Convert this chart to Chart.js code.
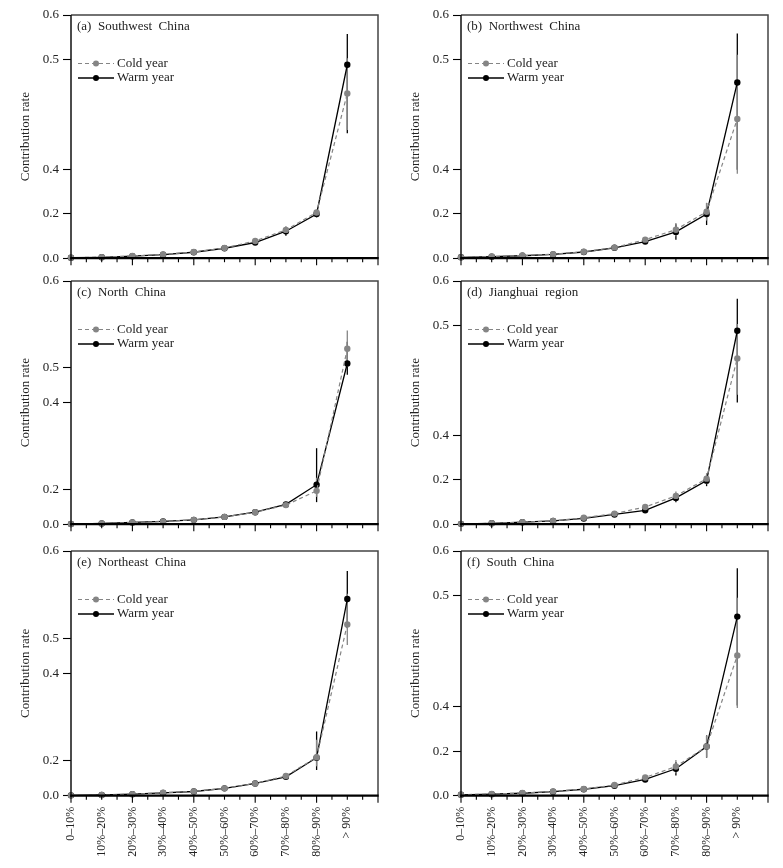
<!DOCTYPE html>
<html><head><meta charset="utf-8">
<script src="https://cdn.jsdelivr.net/npm/chart.js@4.4.1/dist/chart.umd.min.js"></script>
<style>
html,body{margin:0;padding:0;background:#fff;}
body{width:783px;height:868px;position:relative;overflow:hidden;}
.p{position:absolute;}
canvas{display:block;}
</style></head><body>
<div class="p" style="left:0;top:0;width:390px;height:270px"><canvas id="c0"></canvas></div>
<div class="p" style="left:390px;top:0;width:390px;height:270px"><canvas id="c1"></canvas></div>
<div class="p" style="left:0;top:266.2px;width:390px;height:270px"><canvas id="c2"></canvas></div>
<div class="p" style="left:390px;top:266.2px;width:390px;height:270px"><canvas id="c3"></canvas></div>
<div class="p" style="left:0;top:535.7px;width:390px;height:332.3px"><canvas id="c4"></canvas></div>
<div class="p" style="left:390px;top:535.7px;width:390px;height:332.3px"><canvas id="c5"></canvas></div>
<script>
// ---------------- data ----------------
const categories = ['0–10%','10%–20%','20%–30%','30%–40%','40%–50%','50%–60%','60%–70%','70%–80%','80%–90%','> 90%'];
const yTickValues = [0, 0.2, 0.4, 0.5, 0.6];
const seriesLabels = ['Cold year', 'Warm year'];
const panelTitles = ['(a)  Southwest  China','(b)  Northwest  China','(c)  North  China','(d)  Jianghuai  region','(e)  Northeast  China','(f)  South  China'];
const yAxisTitle = 'Contribution rate';

// (a) Southwest China
const swCold    = [0.002, 0.005, 0.010, 0.017, 0.028, 0.046, 0.078, 0.128, 0.207, 0.469];
const swWarm    = [0.002, 0.004, 0.009, 0.016, 0.027, 0.045, 0.071, 0.122, 0.200, 0.495];
const swColdErr = [0, 0, 0.001, 0.001, 0.002, 0.004, 0.007, 0.015, 0.012, 0.033];
const swWarmErr = [0, 0, 0.001, 0.001, 0.002, 0.004, 0.007, 0.020, 0.015, 0.062];
// (b) Northwest China
const nwCold    = [0.0045, 0.0075, 0.012, 0.018, 0.029, 0.048, 0.084, 0.129, 0.210, 0.446];
const nwWarm    = [0.004, 0.007, 0.011, 0.017, 0.028, 0.047, 0.075, 0.119, 0.200, 0.479];
const nwColdErr = [0, 0, 0.001, 0.002, 0.003, 0.006, 0.010, 0.030, 0.040, 0.064];
const nwWarmErr = [0, 0, 0.001, 0.002, 0.003, 0.006, 0.010, 0.035, 0.050, 0.079];
// (c) North China
const ncCold    = [0.001, 0.004, 0.010, 0.015, 0.025, 0.042, 0.069, 0.110, 0.192, 0.522];
const ncWarm    = [0.001, 0.004, 0.010, 0.016, 0.025, 0.042, 0.069, 0.114, 0.211, 0.505];
const ncColdErr = [0, 0, 0.001, 0.001, 0.002, 0.003, 0.004, 0.008, 0.035, 0.021];
const ncWarmErr = [0, 0, 0.001, 0.001, 0.002, 0.003, 0.004, 0.008, 0.084, 0.025];
// (d) Jianghuai region
const jhCold    = [0.0015, 0.004, 0.009, 0.015, 0.029, 0.048, 0.078, 0.128, 0.206, 0.470];
const jhWarm    = [0.0015, 0.004, 0.009, 0.015, 0.026, 0.044, 0.063, 0.119, 0.197, 0.495];
const jhColdErr = [0, 0, 0.001, 0.001, 0.002, 0.004, 0.008, 0.020, 0.025, 0.033];
const jhWarmErr = [0, 0, 0.001, 0.001, 0.002, 0.004, 0.008, 0.020, 0.025, 0.065];
// (e) Northeast China
const neCold    = [0.002, 0.004, 0.009, 0.017, 0.025, 0.042, 0.070, 0.113, 0.208, 0.516];
const neWarm    = [0.002, 0.004, 0.009, 0.016, 0.024, 0.042, 0.070, 0.108, 0.207, 0.545];
const neColdErr = [0, 0, 0.001, 0.001, 0.002, 0.003, 0.005, 0.010, 0.040, 0.035];
const neWarmErr = [0, 0, 0.001, 0.001, 0.002, 0.003, 0.005, 0.010, 0.060, 0.032];
// (f) South China
const scCold    = [0.0045, 0.0075, 0.012, 0.019, 0.030, 0.048, 0.082, 0.131, 0.221, 0.446];
const scWarm    = [0.004, 0.007, 0.011, 0.018, 0.029, 0.045, 0.073, 0.121, 0.221, 0.481];
const scColdErr = [0, 0, 0.001, 0.002, 0.003, 0.006, 0.010, 0.030, 0.050, 0.052];
const scWarmErr = [0, 0, 0.001, 0.002, 0.003, 0.006, 0.010, 0.030, 0.050, 0.080];

// ---------------- axis configuration (broken y axis) ----------------
const AXIS_FRACTIONS = {
  brokenA: [0, 2/11, 4/11, 9/11, 1],
  brokenB: [0, 1/7, 3.5/7, 4.5/7, 1]
};
function toFrac(v, vals, fr) {
  const n = vals.length - 1;
  let i = 0;
  if (v <= vals[0]) i = 0;
  else if (v >= vals[n]) i = n - 1;
  else { while (i < n - 1 && v > vals[i + 1]) i++; }
  return fr[i] + (v - vals[i]) / (vals[i + 1] - vals[i]) * (fr[i + 1] - fr[i]);
}
function fromFrac(f, vals, fr) {
  const n = fr.length - 1;
  let i = 0;
  if (f <= fr[0]) i = 0;
  else if (f >= fr[n]) i = n - 1;
  else { while (i < n - 1 && f > fr[i + 1]) i++; }
  return vals[i] + (f - fr[i]) / (fr[i + 1] - fr[i]) * (vals[i + 1] - vals[i]);
}
const BaseLinear = Chart.LinearScale || Chart.registry.getScale('linear');
function makeBrokenScale(id, fr) {
  class BrokenScale extends BaseLinear {
    getPixelForValue(value) {
      if (value === null || value === undefined || isNaN(value)) return NaN;
      return this.getPixelForDecimal(toFrac(value, yTickValues, fr));
    }
    getValueForPixel(pixel) {
      return fromFrac(this.getDecimalForPixel(pixel), yTickValues, fr);
    }
  }
  BrokenScale.id = id;
  BrokenScale.defaults = BaseLinear.defaults;
  Chart.register(BrokenScale);
}
makeBrokenScale('brokenA', AXIS_FRACTIONS.brokenA);
makeBrokenScale('brokenB', AXIS_FRACTIONS.brokenB);

// ---------------- styling ----------------
const FONT = 'Liberation Serif';
const COLD_COLOR = '#858585';
const WARM_COLOR = '#000000';
const TEXT_COLOR = '#222222';

const decor = {
  id: 'decor',
  beforeDatasetsDraw(chart) {
    const {ctx} = chart;
    const x = chart.scales.x, y = chart.scales.y;
    const ds = chart.data.datasets;
    ctx.save();
    ctx.setLineDash([]);
    for (const i of [1, 0]) {
      const d = ds[i];
      ctx.strokeStyle = d.borderColor;
      ctx.lineWidth = 1.3;
      d.data.forEach((p, j) => {
        const e = d.errorBars[j];
        if (!e) return;
        const px = x.getPixelForValue(p.x);
        ctx.beginPath();
        ctx.moveTo(px, y.getPixelForValue(p.y - e));
        ctx.lineTo(px, y.getPixelForValue(p.y + e));
        ctx.stroke();
      });
    }
    ctx.restore();
  },
  afterDraw(chart, args, opts) {
    const {ctx, chartArea: a} = chart;
    const x = chart.scales.x;
    ctx.save();
    ctx.setLineDash([]);
    // frame
    ctx.strokeStyle = '#444';
    ctx.lineWidth = 1.5;
    ctx.beginPath();
    ctx.moveTo(a.left, a.top); ctx.lineTo(a.right, a.top); ctx.lineTo(a.right, a.bottom);
    ctx.stroke();
    ctx.strokeStyle = '#111';
    ctx.beginPath(); ctx.moveTo(a.left, a.top); ctx.lineTo(a.left, a.bottom + 1); ctx.stroke();
    ctx.strokeStyle = '#000';
    ctx.lineWidth = 2.2;
    ctx.beginPath(); ctx.moveTo(a.left - 0.7, a.bottom); ctx.lineTo(a.right + 0.7, a.bottom); ctx.stroke();
    // x ticks (major every 2 categories, minor every half category)
    ctx.lineWidth = 1.1;
    for (let k = 0; k <= 20; k++) {
      const v = k / 2;
      const px = x.getPixelForValue(v);
      const len = (k % 4 === 0) ? 7 : 4;
      ctx.beginPath(); ctx.moveTo(px, a.bottom); ctx.lineTo(px, a.bottom + len); ctx.stroke();
    }
    // panel title
    ctx.fillStyle = TEXT_COLOR;
    ctx.font = '13px "' + FONT + '"';
    ctx.textBaseline = 'middle';
    ctx.textAlign = 'left';
    ctx.fillText(opts.title, a.left + 6, a.top + 12);
    // legend
    const ds = chart.data.datasets;
    const rows = [a.top + 48.5, a.top + 63];
    ds.forEach((d, i) => {
      const yy = rows[i];
      ctx.strokeStyle = d.borderColor;
      ctx.lineWidth = d.borderWidth;
      ctx.setLineDash(d.borderDash || []);
      ctx.beginPath(); ctx.moveTo(a.left + 7, yy); ctx.lineTo(a.left + 43, yy); ctx.stroke();
      ctx.setLineDash([]);
      ctx.fillStyle = d.pointBackgroundColor;
      ctx.beginPath(); ctx.arc(a.left + 25, yy, 3, 0, Math.PI * 2); ctx.fill();
      ctx.fillStyle = TEXT_COLOR;
      ctx.fillText(d.label, a.left + 46, yy);
    });
    ctx.restore();
  }
};

const PANELS = [
  {canvas: 'c0', title: panelTitles[0], cold: swCold, warm: swWarm, ce: swColdErr, we: swWarmErr, scale: 'brokenA', bottom: false},
  {canvas: 'c1', title: panelTitles[1], cold: nwCold, warm: nwWarm, ce: nwColdErr, we: nwWarmErr, scale: 'brokenA', bottom: false},
  {canvas: 'c2', title: panelTitles[2], cold: ncCold, warm: ncWarm, ce: ncColdErr, we: ncWarmErr, scale: 'brokenB', bottom: false},
  {canvas: 'c3', title: panelTitles[3], cold: jhCold, warm: jhWarm, ce: jhColdErr, we: jhWarmErr, scale: 'brokenA', bottom: false},
  {canvas: 'c4', title: panelTitles[4], cold: neCold, warm: neWarm, ce: neColdErr, we: neWarmErr, scale: 'brokenB', bottom: true},
  {canvas: 'c5', title: panelTitles[5], cold: scCold, warm: scWarm, ce: scColdErr, we: scWarmErr, scale: 'brokenA', bottom: true}
];

const toPoints = arr => arr.map((v, i) => ({x: i, y: v}));

PANELS.forEach(p => {
  new Chart(document.getElementById(p.canvas), {
    type: 'line',
    data: {
      datasets: [
        {
          label: seriesLabels[0], data: toPoints(p.cold), errorBars: p.ce,
          borderColor: COLD_COLOR, backgroundColor: COLD_COLOR, borderWidth: 1.2, borderDash: [4, 3],
          pointRadius: 3.2, pointBackgroundColor: COLD_COLOR, pointBorderColor: COLD_COLOR, pointBorderWidth: 0,
          tension: 0, clip: false
        },
        {
          label: seriesLabels[1], data: toPoints(p.warm), errorBars: p.we,
          borderColor: WARM_COLOR, backgroundColor: WARM_COLOR, borderWidth: 1.3,
          pointRadius: 3.2, pointBackgroundColor: WARM_COLOR, pointBorderColor: WARM_COLOR, pointBorderWidth: 0,
          tension: 0, clip: false
        }
      ]
    },
    options: {
      responsive: true,
      maintainAspectRatio: false,
      animation: false,
      events: [],
      layout: {padding: {top: 15, right: 12, left: 0, bottom: 0}},
      plugins: {legend: {display: false}, tooltip: {enabled: false}, decor: {title: p.title}},
      scales: {
        x: {
          type: 'linear', position: 'bottom', min: 0, max: categories.length,
          afterBuildTicks: s => { s.ticks = categories.map((c, i) => ({value: i})); },
          afterFit: s => { s.height = p.bottom ? 72.6 : 10.7; },
          grid: {display: true, drawOnChartArea: false, drawTicks: false},
          border: {display: false},
          ticks: {
            display: p.bottom, autoSkip: false, minRotation: 90, maxRotation: 90, padding: 11,
            color: TEXT_COLOR, font: {family: FONT, size: 12},
            callback: v => categories[v] !== undefined ? categories[v] : ''
          }
        },
        y: {
          type: p.scale, position: 'left', min: 0, max: 0.6,
          afterBuildTicks: s => { s.ticks = yTickValues.map(v => ({value: v})); },
          afterFit: s => { s.width = 71; },
          grid: {display: true, drawOnChartArea: false, drawTicks: true, tickLength: 8, tickColor: '#000', tickWidth: 1.1},
          border: {display: false},
          ticks: {padding: 4, color: TEXT_COLOR, font: {family: FONT, size: 13}, callback: v => Number(v).toFixed(1)},
          title: {display: true, text: yAxisTitle, color: TEXT_COLOR, font: {family: FONT, size: 13}, padding: {top: 18, bottom: 0}}
        }
      }
    },
    plugins: [decor]
  });
});
</script>
</body></html>
